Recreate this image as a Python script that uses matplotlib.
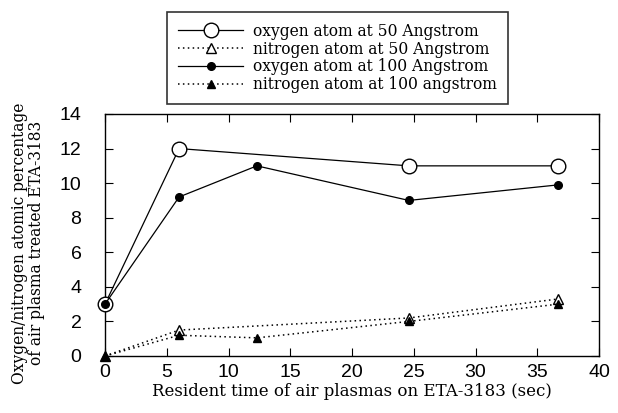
import matplotlib
matplotlib.use('Agg')
import matplotlib.pyplot as plt

# resident time (sec)
t_o50 = [0, 6, 24.6, 36.7]
o50 = [3, 12, 11, 11]
t_n50 = [0, 6, 24.6, 36.7]
n50 = [0, 1.5, 2.2, 3.3]
t_o100 = [0, 6, 12.3, 24.6, 36.7]
o100 = [3, 9.2, 11, 9, 9.9]
t_n100 = [0, 6, 12.3, 24.6, 36.7]
n100 = [0, 1.2, 1.05, 2.0, 3.0]

serif = ['DejaVu Serif']
sans = ['Liberation Sans', 'DejaVu Sans']
dots = (0, (1, 2.2))

fig = plt.figure(figsize=(6.18, 4.13), dpi=100)
ax = fig.add_axes([105/618, 1-356/413, 494/618, 242/413])

ax.plot(t_o50, o50, '-', color='black', lw=0.9, marker='o', ms=10.5,
        mfc='white', mec='black', mew=1.0, clip_on=False, zorder=3,
        label='oxygen atom at 50 Angstrom')
ax.plot(t_n50, n50, ls=dots, color='black', lw=1.1, marker='^', ms=7.5,
        mfc='white', mec='black', mew=1.0, clip_on=False, zorder=3,
        label='nitrogen atom at 50 Angstrom')
ax.plot(t_o100, o100, '-', color='black', lw=0.9, marker='o', ms=5.5,
        mfc='black', mec='black', clip_on=False, zorder=4,
        label='oxygen atom at 100 Angstrom')
ax.plot(t_n100, n100, ls=dots, color='black', lw=1.1, marker='^', ms=5.5,
        mfc='black', mec='black', clip_on=False, zorder=4,
        label='nitrogen atom at 100 angstrom')

ax.set_xlim(0, 40)
ax.set_ylim(0, 14)
ax.set_xticks(range(0, 41, 5))
ax.set_yticks(range(0, 15, 2))
ax.tick_params(direction='in', top=True, right=True, length=6, width=0.8,
               labelsize=14)
ax.tick_params(axis='y', pad=17)
ax.tick_params(axis='x', pad=6)
for lab in ax.get_xticklabels() + ax.get_yticklabels():
    lab.set_family(sans)
for s in ax.spines.values():
    s.set_linewidth(1.0)

ax.set_xlabel('Resident time of air plasmas on ETA-3183 (sec)', family=serif,
              fontsize=12, labelpad=1)
ax.set_ylabel('Oxygen/nitrogen atomic percentage\nof air plasma treated ETA-3183',
              family=serif, fontsize=11.2, linespacing=1.0)
ax.yaxis.set_label_coords(-0.121, 0.467)

leg = fig.legend(loc='upper left', bbox_to_anchor=(167/618, 1-12/413),
                 prop={'family': serif, 'size': 11.2}, frameon=True,
                 fancybox=False, edgecolor='black', handlelength=4.2,
                 labelspacing=0.05, borderpad=0.7, handletextpad=0.65,
                 borderaxespad=0)
leg.get_frame().set_linewidth(1.2)

fig.savefig('out.png', dpi=100)
